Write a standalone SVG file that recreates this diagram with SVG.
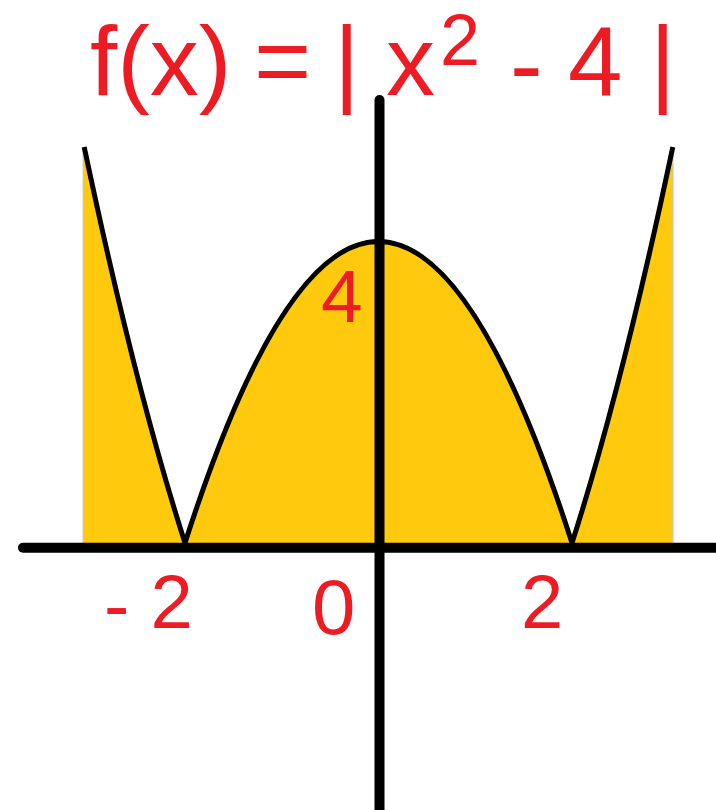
<svg xmlns="http://www.w3.org/2000/svg" width="716" height="810" viewBox="0 0 716 810">
  <style>
    .lbl { font-family: "Liberation Sans", Arial, sans-serif; fill: #ED1C24; }
    .curve { fill: none; stroke: #000; stroke-width: 5; stroke-linejoin: round; }
    .axis { stroke: #000; stroke-width: 10; stroke-linecap: round; }
    .edge { stroke: #C8C8C8; stroke-width: 1.2; }
  </style>
  <rect width="716" height="810" fill="#FFFFFF"/>
  <g id="fill">
    <path d="M83,147 L84.2,147 Q134.6,385.9 185,543 Q378.5,-60 572,543 Q622.4,385.9 672.8,147 L673,147 L673,548 L83,548 Z" fill="#FFC90E"/>
    <line class="edge" x1="83.2" y1="147" x2="83.2" y2="543"/>
    <line class="edge" x1="673" y1="147" x2="673" y2="543"/>
  </g>
  <g id="curve">
    <path class="curve" d="M84.2,147 Q134.6,385.9 185,543 Q378.5,-60 572,543 Q622.4,385.9 672.8,147"/>
  </g>
  <g id="axes">
    <line class="axis" x1="23" y1="547.7" x2="730" y2="547.7"/>
    <line class="axis" x1="379.5" y1="100" x2="379.5" y2="830"/>
  </g>
  <g id="title">
    <text class="lbl" y="95" font-size="98"><tspan x="90">f(x) </tspan><tspan x="254">= </tspan><tspan x="334">| </tspan><tspan x="386">x</tspan><tspan x="440" y="65" font-size="72">2 </tspan><tspan x="510" y="98">- </tspan><tspan x="568" y="95">4 </tspan><tspan x="650">|</tspan></text>
  </g>
  <g id="labels">
    <text class="lbl" x="321" y="322" font-size="75">4</text>
    <text class="lbl" x="104" y="628" font-size="76"><tspan dy="3">-</tspan><tspan dy="-3"> 2</tspan></text>
    <text class="lbl" x="312" y="634" font-size="78">0</text>
    <text class="lbl" x="521" y="628" font-size="76">2</text>
  </g>
</svg>
